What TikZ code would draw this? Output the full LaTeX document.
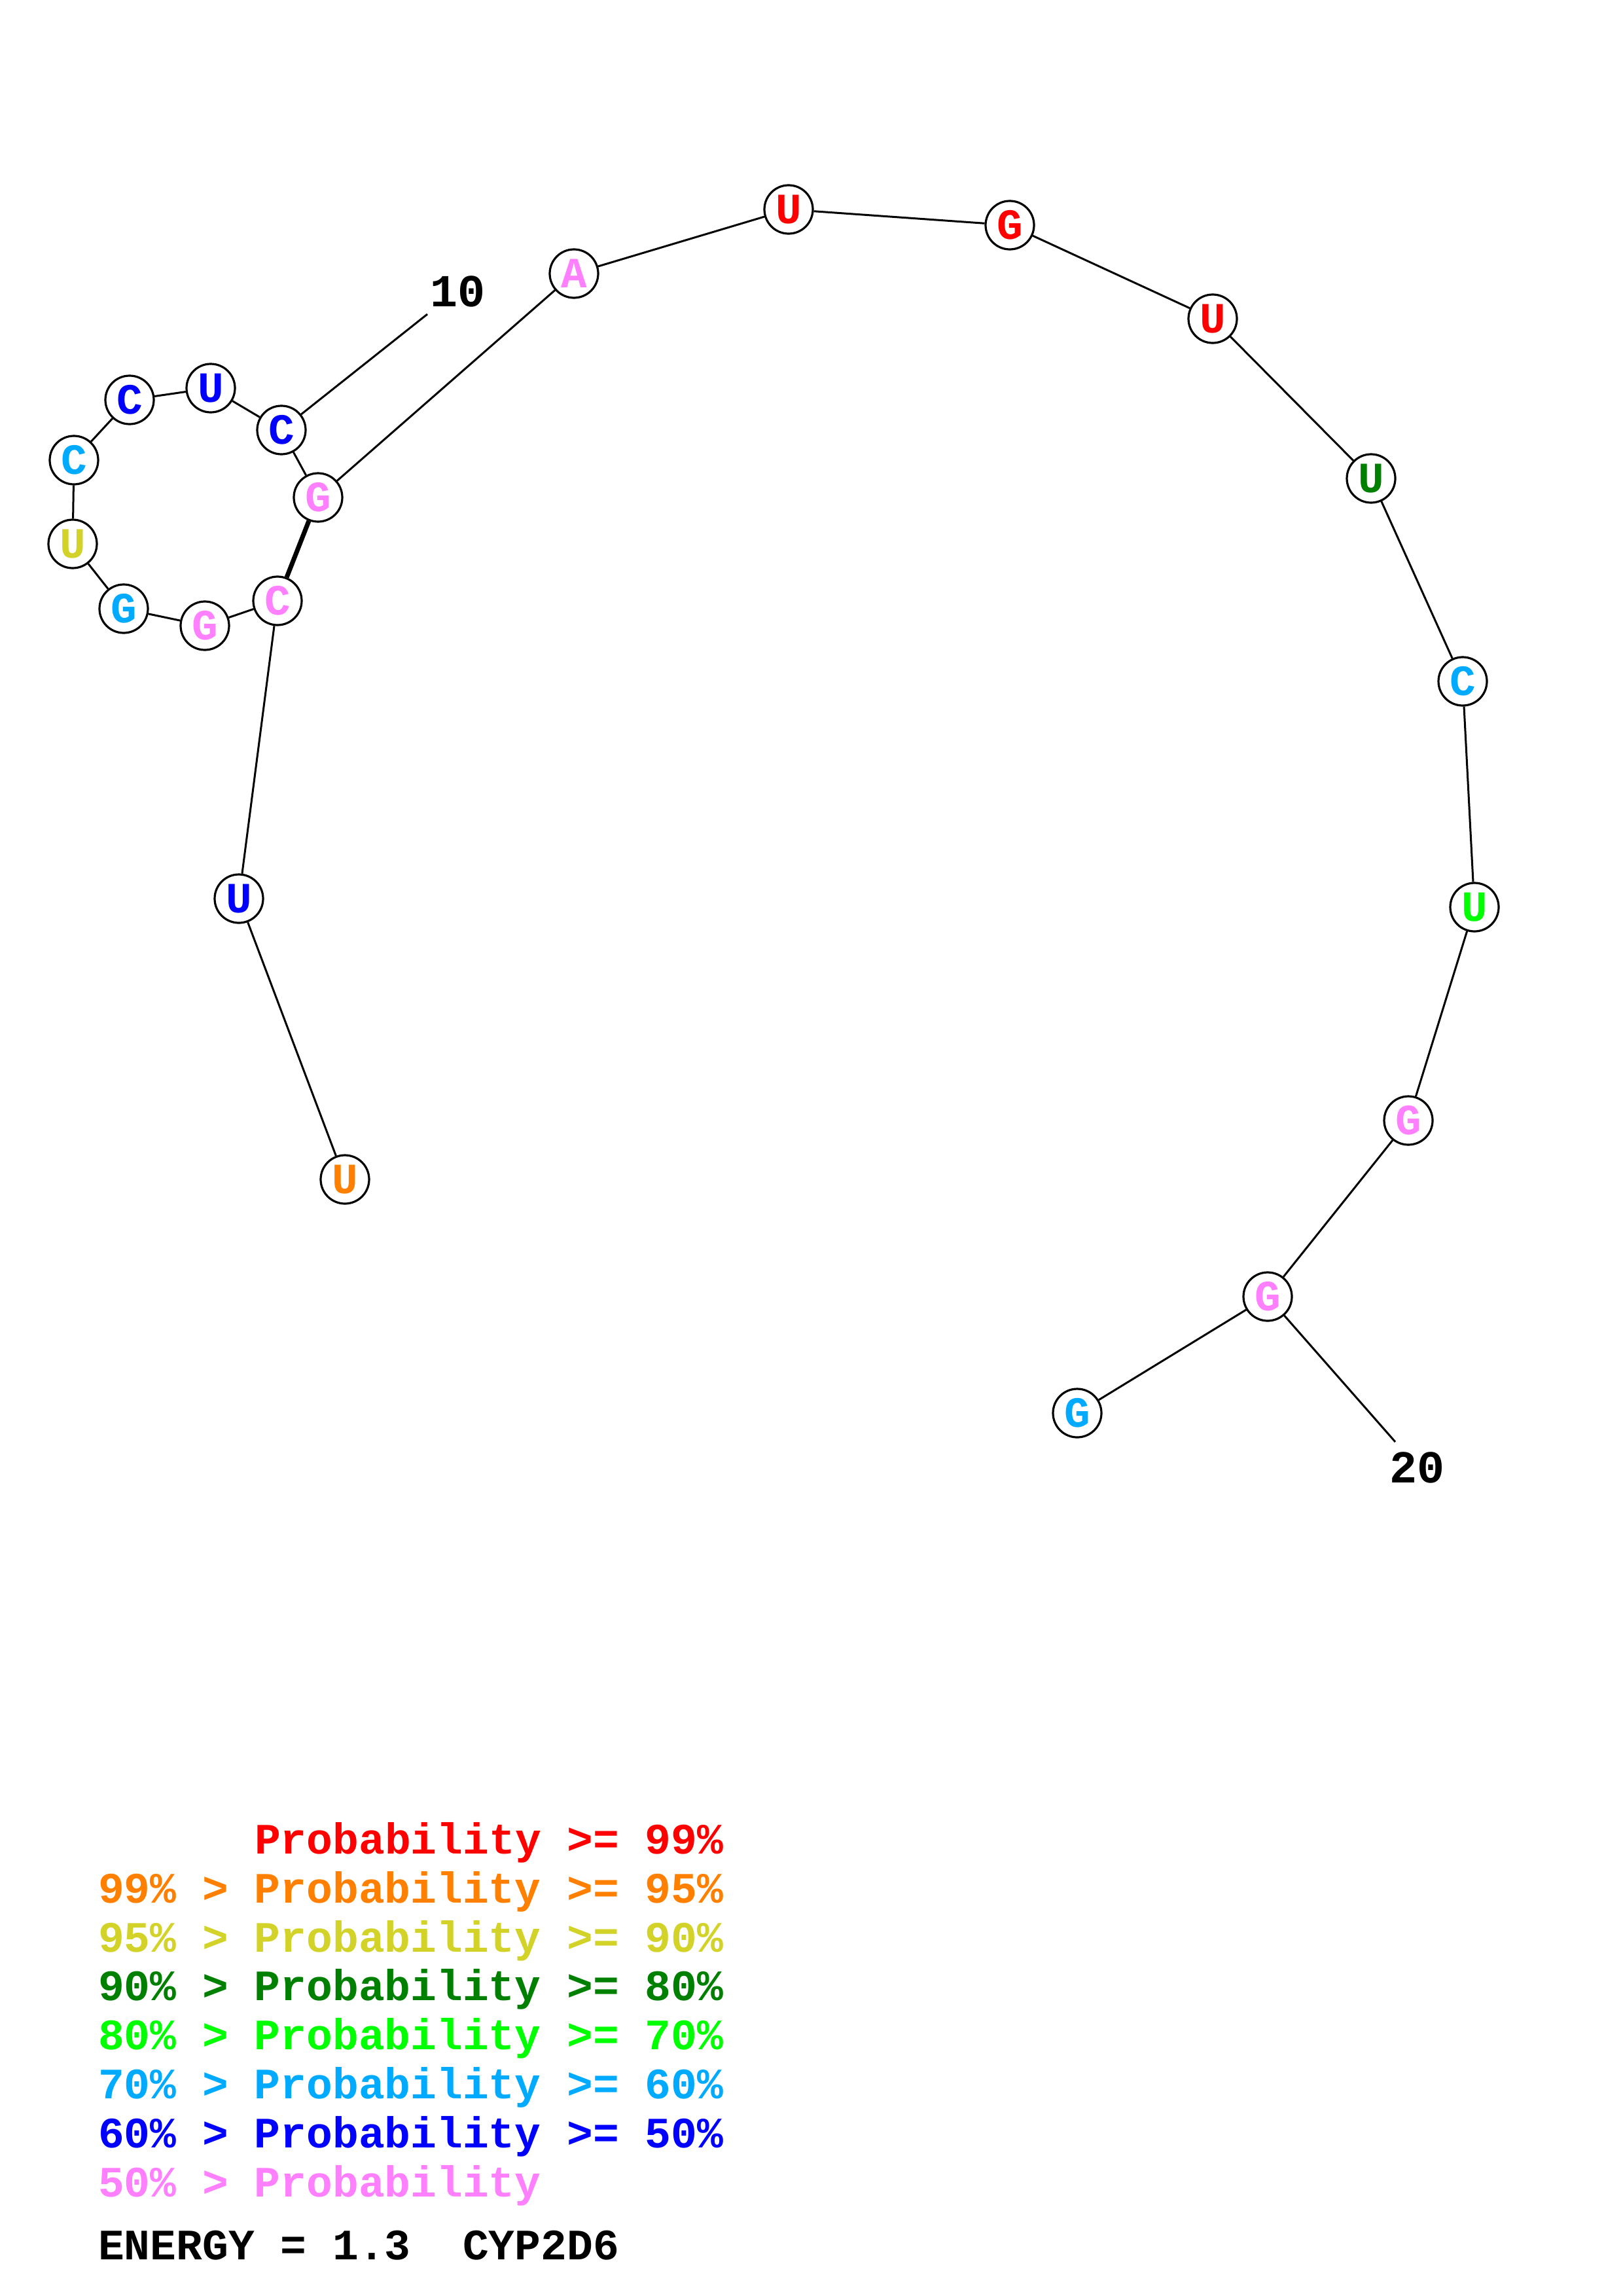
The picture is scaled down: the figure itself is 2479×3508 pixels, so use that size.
\documentclass[tikz,border=0pt]{standalone}
\usepackage{fontspec}
\setmainfont{Liberation Mono}
\definecolor{cRed}{RGB}{255,0,0}
\definecolor{cOr}{RGB}{255,128,0}
\definecolor{cYe}{RGB}{210,210,40}
\definecolor{cDg}{RGB}{0,128,0}
\definecolor{cGr}{RGB}{0,255,0}
\definecolor{cCy}{RGB}{0,170,255}
\definecolor{cBl}{RGB}{0,0,255}
\definecolor{cPk}{RGB}{255,128,255}
\begin{document}
\begin{tikzpicture}[x=1pt,y=-1pt,
  base/.style={circle,draw=black,line width=3.2pt,fill=white,minimum size=74pt,inner sep=0pt,font=\fontsize{66}{66}\selectfont\bfseries},
  bb/.style={line width=3pt},
  bp/.style={line width=7pt},
  lbl/.style={inner sep=0pt,font=\fontsize{70}{70}\selectfont\bfseries},
  leg/.style={anchor=base west,inner sep=0pt,font=\fontsize{66.3}{66}\selectfont\bfseries}]
\useasboundingbox (0,0) rectangle (2479,3508);
% bases
\node[base,text=cOr]  (n1)  at (527,1802) {U};
\node[base,text=cBl]  (n2)  at (365,1373) {U};
\node[base,text=cPk]  (n3)  at (424,918)  {C};
\node[base,text=cPk]  (n4)  at (313,956)  {G};
\node[base,text=cCy]  (n5)  at (189,930)  {G};
\node[base,text=cYe]  (n6)  at (111,831)  {U};
\node[base,text=cCy]  (n7)  at (113,703)  {C};
\node[base,text=cBl]  (n8)  at (198,611)  {C};
\node[base,text=cBl]  (n9)  at (322,593)  {U};
\node[base,text=cBl]  (n10) at (430,657)  {C};
\node[base,text=cPk]  (n11) at (486,760)  {G};
\node[base,text=cPk]  (n12) at (877,418)  {A};
\node[base,text=cRed] (n13) at (1205,320) {U};
\node[base,text=cRed] (n14) at (1543,344) {G};
\node[base,text=cRed] (n15) at (1853,487) {U};
\node[base,text=cDg]  (n16) at (2095,731) {U};
\node[base,text=cCy]  (n17) at (2235,1041) {C};
\node[base,text=cGr]  (n18) at (2253,1386) {U};
\node[base,text=cPk]  (n19) at (2152,1712) {G};
\node[base,text=cPk]  (n20) at (1937,1981) {G};
\node[base,text=cCy]  (n21) at (1646,2159) {G};
% backbone
\foreach \a/\b in {1/2,2/3,3/4,4/5,5/6,6/7,7/8,8/9,9/10,10/11,11/12,12/13,13/14,14/15,15/16,16/17,17/18,18/19,19/20,20/21}
  \draw[bb] (n\a) -- (n\b);
% base pair
\draw[bp] (n3) -- (n11);
% numbering
\coordinate (l10) at (653,480);
\coordinate (l20) at (2132,2203);
\draw[bb] (n10) -- (l10);
\draw[bb] (n20) -- (l20);
\node[lbl] (t10) at (699,445) {10};
\node[lbl] (t20) at (2165,2242) {20};
% legend
\node[leg,text=cRed] (g1) at (389,2832) {Probability >= 99\%};
\node[leg,text=cOr]  (g2) at (150,2907) {99\% > Probability >= 95\%};
\node[leg,text=cYe]  (g3) at (150,2982) {95\% > Probability >= 90\%};
\node[leg,text=cDg]  (g4) at (150,3056) {90\% > Probability >= 80\%};
\node[leg,text=cGr]  (g5) at (150,3131) {80\% > Probability >= 70\%};
\node[leg,text=cCy]  (g6) at (150,3206) {70\% > Probability >= 60\%};
\node[leg,text=cBl]  (g7) at (150,3281) {60\% > Probability >= 50\%};
\node[leg,text=cPk]  (g8) at (150,3356) {50\% > Probability};
\node[leg,text=black] (en) at (150,3452) {ENERGY = 1.3\ \ CYP2D6};
\end{tikzpicture}
\end{document}
